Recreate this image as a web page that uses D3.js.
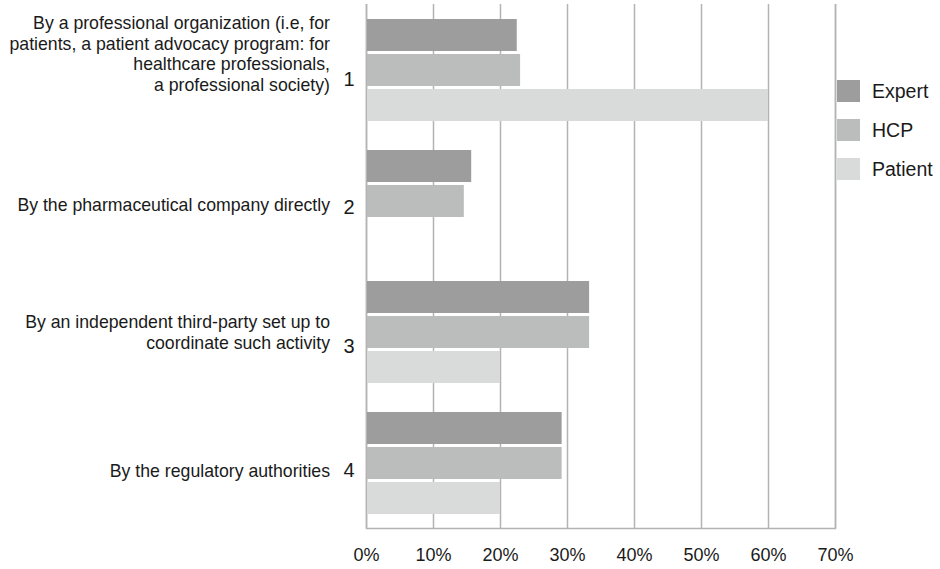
<!DOCTYPE html>
<html>
<head>
<meta charset="utf-8">
<script src="https://cdn.jsdelivr.net/npm/d3@7"></script>
<style>
  html, body { margin: 0; padding: 0; background: #fff; }
  svg { display: block; font-family: "Liberation Sans", Arial, sans-serif; }
</style>
</head>
<body>
<svg id="chart" width="940" height="569"></svg>
<script>
// ---- data ----
const categories = ["1", "2", "3", "4"];
const categoryLabels = [
  ["By a professional organization (i.e, for", "patients, a patient advocacy program: for", "healthcare professionals,", "a professional society)"],
  ["By the pharmaceutical company directly"],
  ["By an independent third-party set up to", "coordinate such activity"],
  ["By the regulatory authorities"]
];
const seriesNames = ["Expert", "HCP", "Patient"];
const expert  = [0.225, 0.157, 0.333, 0.292];
const hcp     = [0.230, 0.146, 0.333, 0.292];
const patient = [0.600, 0.000, 0.200, 0.200];
const xTicks = [0, 0.1, 0.2, 0.3, 0.4, 0.5, 0.6, 0.7];

// ---- layout / style ----
const colors = ["#9d9d9d", "#bbbdbc", "#d9dbda"];
const gridColor = "#b3b3b3";
const plotLeft = 366, plotRight = 835, plotTop = 4, plotBottom = 528;
// baselines of the text lines relative to band centre, per category
const labelBaselines = [[-41, -20, 0, 21], [10.5], [-4, 17], [14.5]];
const numberBaseline = [16, 13.5, 21, 14.5];

const svg = d3.select("#chart");
const x = d3.scaleLinear().domain([0, 0.7]).range([plotLeft, plotRight]);
const y0 = d3.scaleBand().domain(categories).range([plotTop, plotBottom]).padding(0);
const y1 = d3.scaleBand().domain(seriesNames).range([15, 117]).paddingInner(3 / 35).paddingOuter(0);
const color = d3.scaleOrdinal().domain(seriesNames).range(colors);

const table = categories.map((c, i) => ({
  cat: c,
  values: [
    { s: "Expert", v: expert[i] },
    { s: "HCP", v: hcp[i] },
    { s: "Patient", v: patient[i] }
  ]
}));

// gridlines
const xAxis = d3.axisBottom(x).tickValues(xTicks).tickSize(-(plotBottom - plotTop)).tickFormat(d3.format(".0%"));
const gAxis = svg.append("g").attr("transform", `translate(0,${plotBottom})`).call(xAxis);
gAxis.select(".domain").attr("stroke", gridColor).attr("stroke-width", 1.5);
gAxis.selectAll(".tick line").attr("stroke", gridColor).attr("stroke-width", 1.5);
gAxis.selectAll(".tick text")
  .attr("y", 33).attr("dy", 0)
  .attr("font-size", 18).attr("fill", "#1a1a1a")
  .attr("font-family", "Liberation Sans, Arial, sans-serif");

// bars
const groups = svg.append("g").selectAll("g").data(table).join("g")
  .attr("transform", d => `translate(0,${y0(d.cat)})`);
groups.selectAll("rect").data(d => d.values.filter(v => v.v > 0)).join("rect")
  .attr("x", x(0) + 1)
  .attr("y", d => y1(d.s))
  .attr("width", d => x(d.v) - x(0) - 1)
  .attr("height", y1.bandwidth())
  .attr("fill", d => color(d.s));

// category labels
const labG = svg.append("g").attr("fill", "#1a1a1a");
categories.forEach((c, i) => {
  const cy = y0(c) + y0.bandwidth() / 2;
  const t = labG.append("text")
    .attr("text-anchor", "end")
    .attr("font-size", 17.7);
  categoryLabels[i].forEach((line, j) => {
    t.append("tspan").attr("x", 330).attr("y", cy + labelBaselines[i][j]).text(line);
  });
  labG.append("text")
    .attr("x", 349).attr("y", cy + numberBaseline[i])
    .attr("text-anchor", "middle")
    .attr("font-size", 20)
    .text(c);
});

// legend
const legend = svg.append("g").attr("transform", "translate(837,80)");
seriesNames.forEach((s, i) => {
  const g = legend.append("g").attr("transform", `translate(0,${i * 39})`);
  g.append("rect").attr("width", 23).attr("height", 22).attr("fill", color(s));
  g.append("text").attr("x", 35).attr("y", 11).attr("dy", "0.35em")
    .attr("font-size", 19.5).attr("fill", "#1a1a1a").text(s);
});
</script>
</body>
</html>
